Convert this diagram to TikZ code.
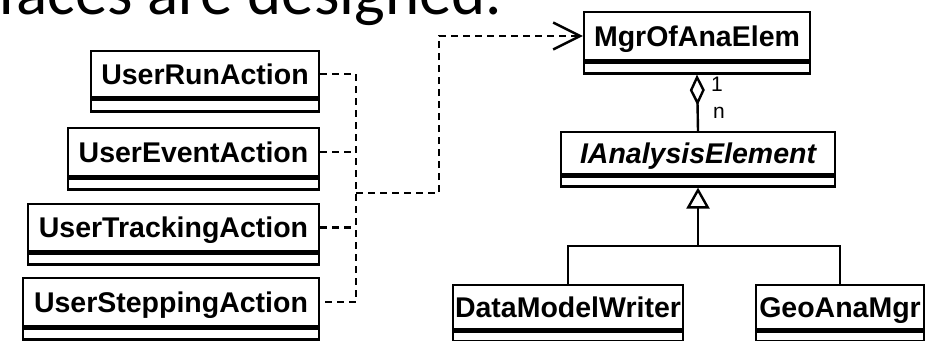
\documentclass[tikz,border=0pt]{standalone}
\usepackage{fontspec}
\setmainfont{Liberation Sans}
\newfontfamily\titlefont{Carlito}
\usetikzlibrary{arrows.meta}
\tikzset{
  clsname/.style={draw, line width=2.4pt, inner sep=0pt, text=black,
    text height=20.4pt, text depth=0pt,
    font=\fontsize{28.5}{34}\selectfont\bfseries},
  clscomp/.style={draw, line width=2.4pt, inner sep=0pt},
  dep/.style={line width=2.4pt, dash pattern=on 7pt off 5pt},
  solidln/.style={line width=2.4pt},
  lbl/.style={inner sep=0pt, font=\fontsize{21}{24}\selectfont},
}
% name, left, right, top, divider, bottom, text
\newcommand\umlcls[7]{%
  \node[clsname, minimum width={#3-#2}, minimum height={#5-#4}] (#1) at ({(#2+#3)/2},{(#4+#5)/2}) {#7};
  \node[clscomp, minimum width={#3-#2}, minimum height={#6-#5}, anchor=north] (#1c) at (#1.south) {};
}
\begin{document}
\begin{tikzpicture}[x=1pt, y=-1pt]
\useasboundingbox (0,0) rectangle (928,340);
\node[anchor=base west, inner sep=0pt, font=\titlefont\fontsize{65}{70}\selectfont] (title) at (-2,14) {faces are designed.};

\umlcls{run}{91}{319}{51}{97}{109}{UserRunAction}
\umlcls{event}{68}{319}{128}{176}{187}{UserEventAction}
\umlcls{track}{28}{319}{204}{251}{262}{UserTrackingAction}
\umlcls{step}{23}{319}{278}{326}{337}{UserSteppingAction}
\umlcls{mgr}{584}{810}{12}{60}{71}{MgrOfAnaElem}
\umlcls{iae}{561}{835}{132}{174}{184}{\itshape IAnalysisElement}
\umlcls{dmw}{453}{683}{285}{329}{339}{DataModelWriter}
\umlcls{geo}{756}{924}{285}{329}{339}{GeoAnaMgr}

\coordinate (bus) at (356,0);
\coordinate (join) at (356,193);
\coordinate (bend) at (439,193);
\draw[dep] (run.east) -- (run.east -| bus) -- (step.east -| bus) -- (step.east);
\draw[dep] (event.east) -- (event.east -| bus);
\draw[dep] (track.east) -- (track.east -| bus);
\draw[dep, -{Straight Barb[length=27pt, width=27pt, line width=2.4pt]}] (join) -- (bend) |- (mgr.west);

\draw[solidln, {Diamond[open, length=31pt, width=15pt, line width=2.4pt]}-] (mgrc.south) -- (iae.north);
\node[lbl, anchor=base west] (one) at (711,91) {1};
\node[lbl, anchor=base west] (many) at (713,118) {n};

\coordinate (hbar) at (698,246);
\draw[solidln, -{Triangle[open, length=21pt, width=23pt, line width=2.4pt]}] (hbar) -- (iaec.south);
\draw[solidln] (dmw.north) |- (hbar) -| (geo.north);
\end{tikzpicture}
\end{document}
